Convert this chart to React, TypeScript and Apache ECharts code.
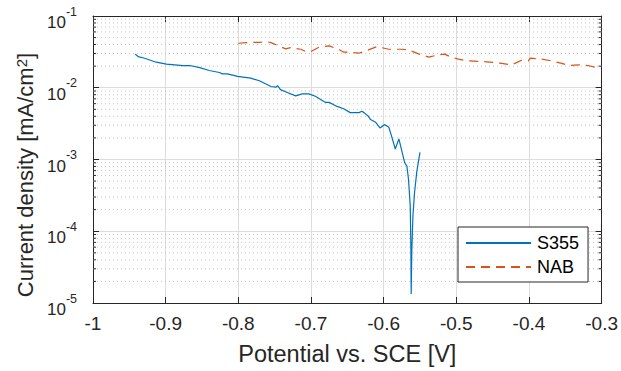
import React, { useEffect, useRef } from "react";
import * as echarts from "echarts";

const xMin = -1;
const xMax = -0.3;
const xStep = 0.1;
const yMin = 1e-5;
const yMax = 1e-1;

const s355Potential = [
  -0.942, -0.938, -0.929, -0.913, -0.899, -0.876, -0.867, -0.853, -0.84, -0.826,
  -0.822, -0.815, -0.801, -0.783, -0.771, -0.755, -0.748, -0.746, -0.742, -0.73,
  -0.721, -0.712, -0.703, -0.694, -0.68, -0.675, -0.666, -0.655, -0.646, -0.634,
  -0.63, -0.627, -0.621, -0.618, -0.611, -0.605, -0.599, -0.593, -0.589, -0.584,
  -0.579, -0.576, -0.571, -0.568, -0.5658, -0.5634, -0.5625, -0.5621, -0.5612, -0.5597,
  -0.5575, -0.5543, -0.552, -0.55,
];
const s355Current = [
  0.0294, 0.0272, 0.0258, 0.0227, 0.0213, 0.0204, 0.0204, 0.0191, 0.0174, 0.0163,
  0.0156, 0.0156, 0.0144, 0.0136, 0.0125, 0.0104, 0.0102, 0.0107, 0.0094, 0.0084,
  0.0077, 0.0082, 0.0082, 0.0076, 0.00625, 0.00625, 0.0056, 0.0051, 0.0045, 0.0045,
  0.0047, 0.0045, 0.004, 0.0036, 0.0033, 0.00275, 0.00306, 0.00284, 0.0021, 0.0014,
  0.00194, 0.00145, 0.0009, 0.00081, 0.00053, 0.000224, 0.000056, 0.0000133, 0.000056, 0.000163,
  0.000344, 0.00069, 0.00095, 0.00126,
];

const nabPotential = [
  -0.8, -0.789, -0.771, -0.762, -0.755, -0.744, -0.735, -0.728, -0.714, -0.707,
  -0.7, -0.689, -0.675, -0.662, -0.655, -0.646, -0.634, -0.621, -0.609, -0.593,
  -0.575, -0.566, -0.552, -0.538, -0.525, -0.516, -0.509, -0.497, -0.484, -0.465,
  -0.454, -0.44, -0.424, -0.411, -0.401, -0.398, -0.385, -0.372, -0.356, -0.344,
  -0.331, -0.319, -0.306,
];
const nabCurrent = [
  0.0417, 0.0426, 0.043, 0.044, 0.0426, 0.0383, 0.0348, 0.0363, 0.0344, 0.0319,
  0.0319, 0.0367, 0.0383, 0.0344, 0.0313, 0.0313, 0.0303, 0.0337, 0.0375, 0.0344,
  0.0344, 0.0337, 0.0297, 0.0267, 0.0287, 0.0294, 0.0272, 0.025, 0.0237, 0.0232,
  0.0228, 0.022, 0.0208, 0.024, 0.0237, 0.0258, 0.0253, 0.024, 0.022, 0.0204,
  0.0208, 0.0204, 0.019,
];

const minorGridValues = [
  2e-5, 3e-5, 4e-5, 5e-5, 6e-5, 7e-5, 8e-5, 9e-5,
  2e-4, 3e-4, 4e-4, 5e-4, 6e-4, 7e-4, 8e-4, 9e-4,
  2e-3, 3e-3, 4e-3, 5e-3, 6e-3, 7e-3, 8e-3, 9e-3,
  2e-2, 3e-2, 4e-2, 5e-2, 6e-2, 7e-2, 8e-2, 9e-2,
];

const seriesNames = ["S355", "NAB"];
const xTitle = "Potential vs. SCE [V]";
const yTitle = "Current density [mA/cm{sup|2}]";

const AXIS = "#262626";
const FONT = "'Liberation Sans', Arial, Helvetica, sans-serif";

export default function App() {
  const ref = useRef<HTMLDivElement>(null);
  useEffect(() => {
    const chart = echarts.init(ref.current!, null, { renderer: "svg" });
    const yLabel = (v: number) => {
      const e = Math.round(Math.log10(v));
      return `{b|10}{s|${e}}`;
    };
    const yRich = {
      b: { fontSize: 17, lineHeight: 26, verticalAlign: "bottom", color: AXIS, fontFamily: FONT },
      s: { fontSize: 12.5, lineHeight: 12, verticalAlign: "top", color: AXIS, fontFamily: FONT },
    };
    const option: any = {
      animation: false,
      backgroundColor: "#ffffff",
      textStyle: { fontFamily: FONT },
      grid: { left: 93, right: 17, top: 16, bottom: 67, containLabel: false },
      legend: {
        data: seriesNames,
        orient: "vertical",
        left: 458,
        top: 227,
        backgroundColor: "#ffffff",
        borderColor: AXIS,
        borderWidth: 1,
        borderRadius: 0,
        padding: [7, 9, 6, 7],
        itemGap: 6,
        itemWidth: 65,
        itemHeight: 20,
        itemStyle: { opacity: 0 },
        textStyle: { fontSize: 18, color: "#000000", fontFamily: FONT, padding: [0, 0, 0, 1] },
      },
      xAxis: [
        {
          type: "value",
          min: xMin,
          max: xMax,
          interval: xStep,
          position: "bottom",
          name: xTitle,
          nameLocation: "middle",
          nameGap: 39,
          nameTextStyle: { fontSize: 23.5, color: AXIS, fontFamily: FONT },
          axisLine: { show: true, lineStyle: { color: AXIS, width: 1 } },
          axisTick: { show: true, inside: true, length: 6, lineStyle: { color: AXIS } },
          axisLabel: {
            show: true,
            margin: 11,
            fontSize: 19,
            color: AXIS,
            fontFamily: FONT,
            formatter: (v: number) => String(Math.round(v * 10) / 10),
          },
          splitLine: { show: true, lineStyle: { color: "#dcdcdc", width: 1 } },
        },
        {
          type: "value",
          min: xMin,
          max: xMax,
          interval: xStep,
          position: "top",
          axisLine: { show: true, lineStyle: { color: AXIS, width: 1 } },
          axisTick: { show: true, inside: true, length: 6, lineStyle: { color: AXIS } },
          axisLabel: { show: false },
          splitLine: { show: false },
        },
      ],
      yAxis: [
        {
          type: "log",
          logBase: 10,
          min: yMin,
          max: yMax,
          position: "left",
          name: yTitle,
          nameLocation: "middle",
          nameGap: 51,
          nameRotate: 90,
          nameTextStyle: {
            fontSize: 22,
            color: AXIS,
            fontFamily: FONT,
            padding: [0, 31, 0, 0],
            rich: {
              sup: { fontSize: 15, verticalAlign: "top", lineHeight: 14, color: AXIS, fontFamily: FONT },
            },
          },
          axisLine: { show: true, lineStyle: { color: AXIS, width: 1 } },
          axisTick: { show: true, inside: true, length: 6, lineStyle: { color: AXIS } },
          axisLabel: { show: true, margin: 16, padding: [4, 0, 0, 0], formatter: yLabel, rich: yRich },
          splitLine: { show: true, lineStyle: { color: "#dcdcdc", width: 1 } },
        },
        {
          type: "log",
          logBase: 10,
          min: yMin,
          max: yMax,
          position: "right",
          axisLine: { show: true, lineStyle: { color: AXIS, width: 1 } },
          axisTick: { show: true, inside: true, length: 6, lineStyle: { color: AXIS } },
          axisLabel: { show: false },
          splitLine: { show: false },
        },
      ],
      series: [
        {
          type: "custom",
          name: "minor",
          silent: true,
          z: 1,
          xAxisIndex: 0,
          yAxisIndex: 0,
          data: minorGridValues.map((v) => [xMin, v]),
          renderItem: (params: any, api: any) => {
            const cs = params.coordSys;
            const y = api.coord([xMin, api.value(1)])[1];
            return {
              type: "group",
              children: [
                {
                  type: "line",
                  shape: { x1: cs.x, y1: y, x2: cs.x + cs.width, y2: y },
                  style: { stroke: "#c4c4c4", lineWidth: 1, lineDash: [1, 3] },
                },
                {
                  type: "line",
                  shape: { x1: cs.x, y1: y, x2: cs.x + 3, y2: y },
                  style: { stroke: AXIS, lineWidth: 1 },
                },
                {
                  type: "line",
                  shape: { x1: cs.x + cs.width - 3, y1: y, x2: cs.x + cs.width, y2: y },
                  style: { stroke: AXIS, lineWidth: 1 },
                },
              ],
            };
          },
        },
        {
          type: "line",
          name: seriesNames[0],
          z: 3,
          data: s355Potential.map((x, i) => [x, s355Current[i]]),
          symbol: "none",
          lineStyle: { color: "#0072BD", width: 1.2 },
          itemStyle: { color: "#0072BD" },
        },
        {
          type: "line",
          name: seriesNames[1],
          z: 3,
          data: nabPotential.map((x, i) => [x, nabCurrent[i]]),
          symbol: "none",
          lineStyle: { color: "#D95319", width: 1.2, type: [9, 6] },
          itemStyle: { color: "#D95319" },
        },
      ],
    };
    chart.setOption(option);
    return () => chart.dispose();
  }, []);
  return (
    <div
      ref={ref}
      style={{ position: "fixed", left: 0, top: 0, width: 621, height: 371 }}
    />
  );
}
